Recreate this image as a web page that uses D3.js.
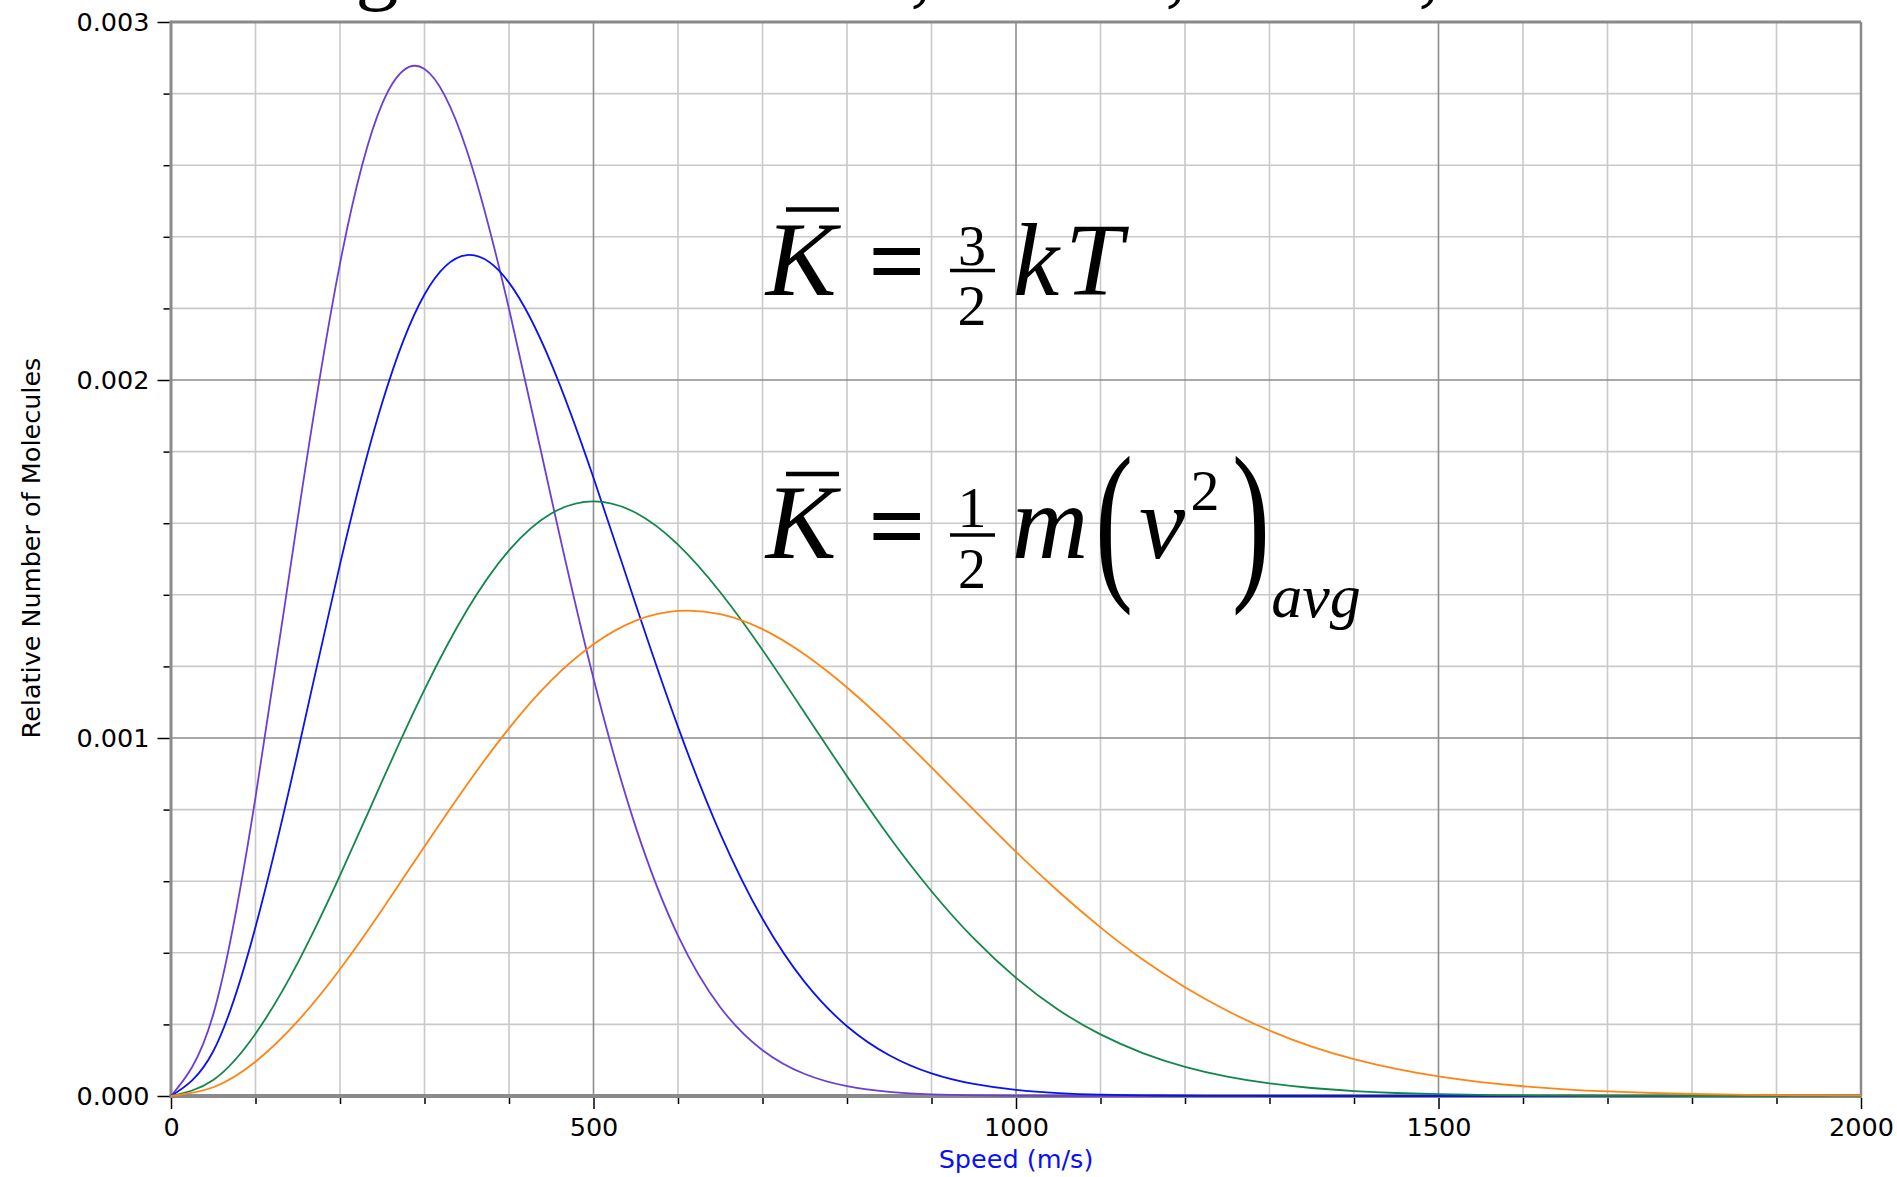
<!DOCTYPE html>
<html>
<head>
<meta charset="utf-8">
<script src="https://cdn.jsdelivr.net/npm/d3@7"></script>
<style>
  html, body { margin: 0; padding: 0; background: #ffffff; }
  svg { display: block; }
</style>
</head>
<body>
<svg id="chart" width="1897" height="1177"></svg>
<script>
// Molecular speed samples (m/s)
const speeds = [0, 50, 100, 150, 200, 250, 300, 350, 400, 450, 500, 550, 600, 650, 700, 750,
  800, 850, 900, 950, 1000, 1050, 1100, 1150, 1200, 1250, 1300, 1350, 1400, 1450, 1500,
  1550, 1600, 1650, 1700, 1750, 1800, 1850, 1900, 1950, 2000];

// Relative number of molecules at each speed, one array per curve
const violetCounts = [0, 0.000228, 0.000834, 0.001614, 0.002325, 0.002772, 0.002869, 0.002642,
  0.002199, 0.001671, 0.001166, 0.000751, 0.000448, 0.000248, 0.000128, 0.0000614, 0.0000275,
  0.0000115, 0.0000045, 0.0000017, 0.0000006, 0, 0, 0, 0, 0, 0, 0, 0, 0, 0, 0, 0, 0, 0, 0, 0,
  0, 0, 0, 0];
const blueCounts = [0, 0.000125, 0.000472, 0.000961, 0.001485, 0.001937, 0.002239, 0.002349,
  0.002272, 0.002046, 0.001727, 0.001373, 0.001031, 0.000733, 0.000495, 0.000318, 0.000195,
  0.000114, 0.0000632, 0.0000336, 0.000017, 0.0000083, 0.0000038, 0.0000017, 0.0000007,
  0.0000003, 0, 0, 0, 0, 0, 0, 0, 0, 0, 0, 0, 0, 0, 0, 0];
const greenCounts = [0, 0.0000447, 0.000174, 0.000372, 0.000616, 0.00088, 0.001135, 0.001356,
  0.001524, 0.001627, 0.001661, 0.001629, 0.00154, 0.001407, 0.001246, 0.00107, 0.000893,
  0.000724, 0.000572, 0.00044, 0.00033, 0.000241, 0.000172, 0.00012, 0.0000816, 0.0000543,
  0.0000352, 0.0000223, 0.0000139, 0.0000084, 0.000005, 0.0000029, 0.0000016, 0.0000009,
  0.0000005, 0.0000002, 0, 0, 0, 0, 0];
const orangeCounts = [0, 0.0000244, 0.0000958, 0.000209, 0.000354, 0.000521, 0.000697, 0.000869,
  0.001027, 0.001161, 0.001262, 0.001328, 0.001355, 0.001346, 0.001304, 0.001233, 0.001141,
  0.001034, 0.000918, 0.000799, 0.000682, 0.000572, 0.000471, 0.000381, 0.000304, 0.000238,
  0.000183, 0.000138, 0.000103, 0.0000756, 0.0000546, 0.0000388, 0.0000272, 0.0000187,
  0.0000127, 0.0000085, 0.0000056, 0.0000036, 0.0000023, 0.0000015, 0.0000009];

// Axis ticks and labels
const xMajorTicks = [0, 500, 1000, 1500, 2000];
const xTickLabels = ["0", "500", "1000", "1500", "2000"];
const xMinorTicks = [100, 200, 300, 400, 600, 700, 800, 900, 1100, 1200, 1300, 1400,
  1600, 1700, 1800, 1900];
const yMajorTicks = [0, 0.001, 0.002, 0.003];
const yTickLabels = ["0.000", "0.001", "0.002", "0.003"];
const yMinorTicks = [0.0002, 0.0004, 0.0006, 0.0008, 0.0012, 0.0014, 0.0016, 0.0018,
  0.0022, 0.0024, 0.0026, 0.0028];
const xTitle = "Speed (m/s)";
const yTitle = "Relative Number of Molecules";

const curves = [
  { values: violetCounts, color: "#6b3fd6" },
  { values: blueCounts, color: "#0b12f2" },
  { values: greenCounts, color: "#13874b" },
  { values: orangeCounts, color: "#ff8412" }
];

const svg = d3.select("#chart");
const x = d3.scaleLinear().domain([0, 2000]).range([171, 1861]);
const y = d3.scaleLinear().domain([0, 0.003]).range([1096, 22]);
const LABEL_FONT = "'DejaVu Sans', Verdana, sans-serif";
const SERIF = "'Liberation Serif', 'Times New Roman', serif";

// ---- grid ----
const grid = svg.append("g");
grid.selectAll("line.vminor").data(xMinorTicks).join("line")
  .attr("x1", d => x(d)).attr("x2", d => x(d))
  .attr("y1", y(0)).attr("y2", y(0.003))
  .attr("stroke", "#c9c9c9").attr("stroke-width", 1.6);
grid.selectAll("line.hminor").data(yMinorTicks).join("line")
  .attr("x1", x(0)).attr("x2", x(2000))
  .attr("y1", d => y(d)).attr("y2", d => y(d))
  .attr("stroke", "#c9c9c9").attr("stroke-width", 1.6);
grid.selectAll("line.vmajor").data(xMajorTicks.filter(d => d > 0 && d < 2000)).join("line")
  .attr("x1", d => x(d)).attr("x2", d => x(d))
  .attr("y1", y(0)).attr("y2", y(0.003))
  .attr("stroke", "#8c8c8c").attr("stroke-width", 1.6);
grid.selectAll("line.hmajor").data(yMajorTicks.filter(d => d > 0 && d < 0.003)).join("line")
  .attr("x1", x(0)).attr("x2", x(2000))
  .attr("y1", d => y(d)).attr("y2", d => y(d))
  .attr("stroke", "#8c8c8c").attr("stroke-width", 1.6);

// ---- plot frame ----
const frame = svg.append("g").attr("stroke", "#8a8a8a").attr("fill", "none");
frame.append("line").attr("x1", x(0)).attr("x2", x(2000)).attr("y1", y(0.003)).attr("y2", y(0.003)).attr("stroke-width", 3);
frame.append("line").attr("x1", x(2000)).attr("x2", x(2000)).attr("y1", y(0.003)).attr("y2", y(0)).attr("stroke-width", 2.5);
frame.append("line").attr("x1", x(0)).attr("x2", x(0)).attr("y1", y(0.003) - 1.5).attr("y2", y(0) + 2).attr("stroke-width", 3);
frame.append("line").attr("x1", x(0) - 1.5).attr("x2", x(2000) + 1).attr("y1", y(0)).attr("y2", y(0)).attr("stroke-width", 4);

// ---- axes ----
function styleAxis(g) {
  g.select(".domain").remove();
  g.selectAll(".tick line").attr("stroke", "#000").attr("stroke-width", 1.5);
  g.selectAll(".tick text").attr("fill", "#000")
    .style("font-family", LABEL_FONT).style("font-size", "25.5px");
}
svg.append("g").attr("transform", `translate(0,${y(0) + 2})`)
  .call(d3.axisBottom(x).tickValues(xMinorTicks).tickSize(6).tickFormat(""))
  .call(styleAxis);
svg.append("g").attr("transform", `translate(0,${y(0) + 2})`)
  .call(d3.axisBottom(x).tickValues(xMajorTicks).tickSize(11).tickSizeOuter(0)
    .tickPadding(9).tickFormat((d, i) => xTickLabels[i]))
  .call(styleAxis);
svg.append("g").attr("transform", `translate(${x(0) - 1.5},0)`)
  .call(d3.axisLeft(y).tickValues(yMinorTicks).tickSize(6).tickFormat(""))
  .call(styleAxis);
svg.append("g").attr("transform", `translate(${x(0) - 1.5},0)`)
  .call(d3.axisLeft(y).tickValues(yMajorTicks).tickSize(12).tickSizeOuter(0)
    .tickPadding(8).tickFormat((d, i) => yTickLabels[i]))
  .call(styleAxis);

// axis titles
svg.append("text")
  .attr("x", x(1000)).attr("y", 1168)
  .attr("text-anchor", "middle")
  .attr("fill", "#0a10f5")
  .style("font-family", LABEL_FONT).style("font-size", "25.5px")
  .text(xTitle);
svg.append("text")
  .attr("transform", "translate(40,548) rotate(-90)")
  .attr("text-anchor", "middle")
  .attr("fill", "#000")
  .style("font-family", LABEL_FONT).style("font-size", "25.5px")
  .text(yTitle);

// ---- equations ----
const eq = svg.append("g").attr("fill", "#000").style("font-family", SERIF);
function glyph(txt, cx, base, size, opts = {}) {
  const t = eq.append("text")
    .attr("x", cx).attr("y", base)
    .attr("text-anchor", "middle")
    .style("font-size", size + "px")
    .style("font-style", opts.italic ? "italic" : "normal")
    .style("font-weight", opts.bold ? "bold" : "normal")
    .text(txt);
  if (opts.sx) {
    t.attr("x", 0).attr("y", 0)
      .attr("transform", `translate(${cx},${base}) scale(${opts.sx},1)`);
  }
  return t;
}
function bar(x1, x2, yy, w) {
  eq.append("line").attr("x1", x1).attr("x2", x2).attr("y1", yy).attr("y2", yy)
    .attr("stroke", "#000").attr("stroke-width", w);
}

// K-bar = 3/2 kT
glyph("K", 801, 295, 106, { italic: true });
bar(786, 839, 209.5, 4.5);
glyph("=", 897, 295, 100, { bold: true });
glyph("3", 972, 265, 56);
bar(950, 995, 270.5, 3.5);
glyph("2", 972, 325, 58);
glyph("k", 1036, 295, 104, { italic: true });
glyph("T", 1094, 295, 104, { italic: true });

// K-bar = 1/2 m (v^2)_avg
glyph("K", 801, 558, 106, { italic: true });
bar(786, 839, 474, 4.5);
glyph("=", 897, 560, 100, { bold: true });
glyph("1", 972, 527, 58);
bar(950, 995, 535, 3.5);
glyph("2", 972, 588, 56);
glyph("m", 1050, 558, 106, { italic: true });
glyph("(", 1114, 578, 176, { sx: 0.65 });
glyph("v", 1162, 558, 104, { italic: true });
glyph("2", 1205, 510, 58);
glyph(")", 1251, 578, 176, { sx: 0.65 });
glyph("avg", 1316, 617, 62, { italic: true });

// heading above the plot (only its lower edge falls inside the page)
const head = svg.append("g").attr("fill", "#000").style("font-family", SERIF).style("font-size", "86px");
head.append("text").attr("x", 377).attr("y", -7).attr("text-anchor", "middle").text("g");
[921, 1176, 1429].forEach(cx => {
  head.append("text").attr("x", cx).attr("y", -4).attr("text-anchor", "middle").text(",");
});

// ---- distribution curves ----
const line = d3.line()
  .x((d, i) => x(speeds[i]))
  .y(d => y(d))
  .curve(d3.curveNatural);
svg.append("g").selectAll("path").data(curves).join("path")
  .attr("d", d => line(d.values))
  .attr("fill", "none")
  .attr("stroke", d => d.color)
  .attr("stroke-width", 1.8)
  .attr("stroke-linejoin", "round");
</script>
</body>
</html>
